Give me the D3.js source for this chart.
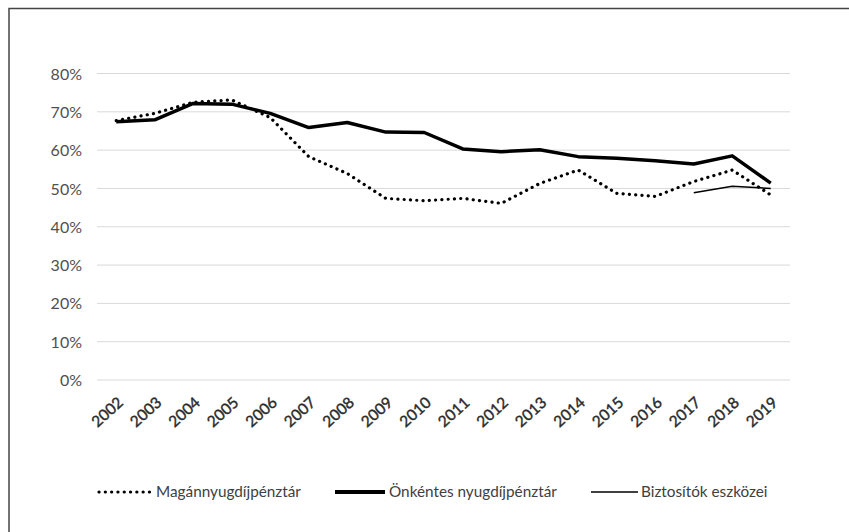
<!DOCTYPE html>
<html><head><meta charset="utf-8">
<script src="https://cdn.jsdelivr.net/npm/d3@7"></script>
<style>body{margin:0;background:#fff}svg{display:block}text{font-family:Lato,"Open Sans",sans-serif}</style>
</head><body>
<svg id="c" width="849" height="532"></svg>
<script>
const years = ["2002","2003","2004","2005","2006","2007","2008","2009","2010","2011","2012","2013","2014","2015","2016","2017","2018","2019"];
const magan = [0.677,0.696,0.725,0.731,0.685,0.583,0.539,0.474,0.468,0.474,0.461,0.513,0.548,0.487,0.479,0.518,0.548,0.483];
const onkentes = [0.674,0.679,0.722,0.720,0.696,0.659,0.672,0.647,0.646,0.603,0.596,0.601,0.583,0.579,0.572,0.564,0.585,0.514];
const biztYears = ["2017","2018","2019"];
const bizt = [0.489,0.506,0.500];
const yTicks = [0,0.1,0.2,0.3,0.4,0.5,0.6,0.7,0.8];
const seriesNames = ["Magánnyugdíjpénztár","Önkéntes nyugdíjpénztár","Biztosítók eszközei"];

const svg = d3.select("#c");
svg.append("rect").attr("x",9).attr("y",8.5).attr("width",860).attr("height",540)
  .attr("fill","none").attr("stroke","#444").attr("stroke-width",1.5);

const x = d3.scaleBand().domain(years).range([97,790]);
const y = d3.scaleLinear().domain([0,0.8]).range([380,73.5]);
const xc = d => x(d) + x.bandwidth()/2;

const g = svg.append("g");
g.selectAll("line.grid").data(yTicks).join("line")
  .attr("x1",97).attr("x2",790).attr("y1",d=>y(d)).attr("y2",d=>y(d))
  .attr("stroke","#d9d9d9").attr("stroke-width",1);

const yAxis = d3.axisLeft(y).tickValues(yTicks).tickFormat(d3.format(".0%")).tickSize(0).tickPadding(0);
const ya = svg.append("g").attr("transform","translate(82,0)").call(yAxis);
ya.select(".domain").remove();
ya.selectAll("text").attr("fill","#505050").style("font-size","16px").attr("dy","0.35em");

const xAxis = d3.axisBottom(x).tickSize(0).tickPadding(0);
const xa = svg.append("g").attr("transform","translate(0,380)").call(xAxis);
xa.select(".domain").remove();
xa.selectAll("text").attr("fill","#2a2a2a").attr("stroke","#2a2a2a").attr("stroke-width",0.4)
  .style("font-size","15.5px")
  .attr("text-anchor","end").attr("dy",null).attr("y",0)
  .attr("transform","translate(8,24) rotate(-42)");

const line = d3.line().x(d=>xc(d[0])).y(d=>y(d[1]));
svg.append("path").datum(years.map((yr,i)=>[yr,magan[i]])).attr("d",line)
  .attr("fill","none").attr("stroke","#000").attr("stroke-width",3.2)
  .attr("stroke-linecap","round").attr("stroke-dasharray","0.1 6.2");
svg.append("path").datum(years.map((yr,i)=>[yr,onkentes[i]])).attr("d",line)
  .attr("fill","none").attr("stroke","#000").attr("stroke-width",3.5).attr("stroke-linejoin","round");
svg.append("path").datum(biztYears.map((yr,i)=>[yr,bizt[i]])).attr("d",line)
  .attr("fill","none").attr("stroke","#000").attr("stroke-width",1.5);

// legend
const ly = 492;
const leg = [
  {x1:99,x2:152,tx:156,w:3.2,dash:"0.1 6.2"},
  {x1:335,x2:385,tx:389,w:3.8,dash:null},
  {x1:591,x2:638,tx:641,w:1.5,dash:null}
];
leg.forEach((l,i)=>{
  svg.append("line").attr("x1",l.x1).attr("x2",l.x2).attr("y1",ly).attr("y2",ly)
    .attr("stroke","#000").attr("stroke-width",l.w)
    .attr("stroke-linecap",l.dash?"round":"butt").attr("stroke-dasharray",l.dash);
  svg.append("text").attr("x",l.tx).attr("y",ly).attr("dy","0.35em")
    .attr("fill","#404040").style("font-size","15.3px").text(seriesNames[i]);
});
</script>
</body></html>
